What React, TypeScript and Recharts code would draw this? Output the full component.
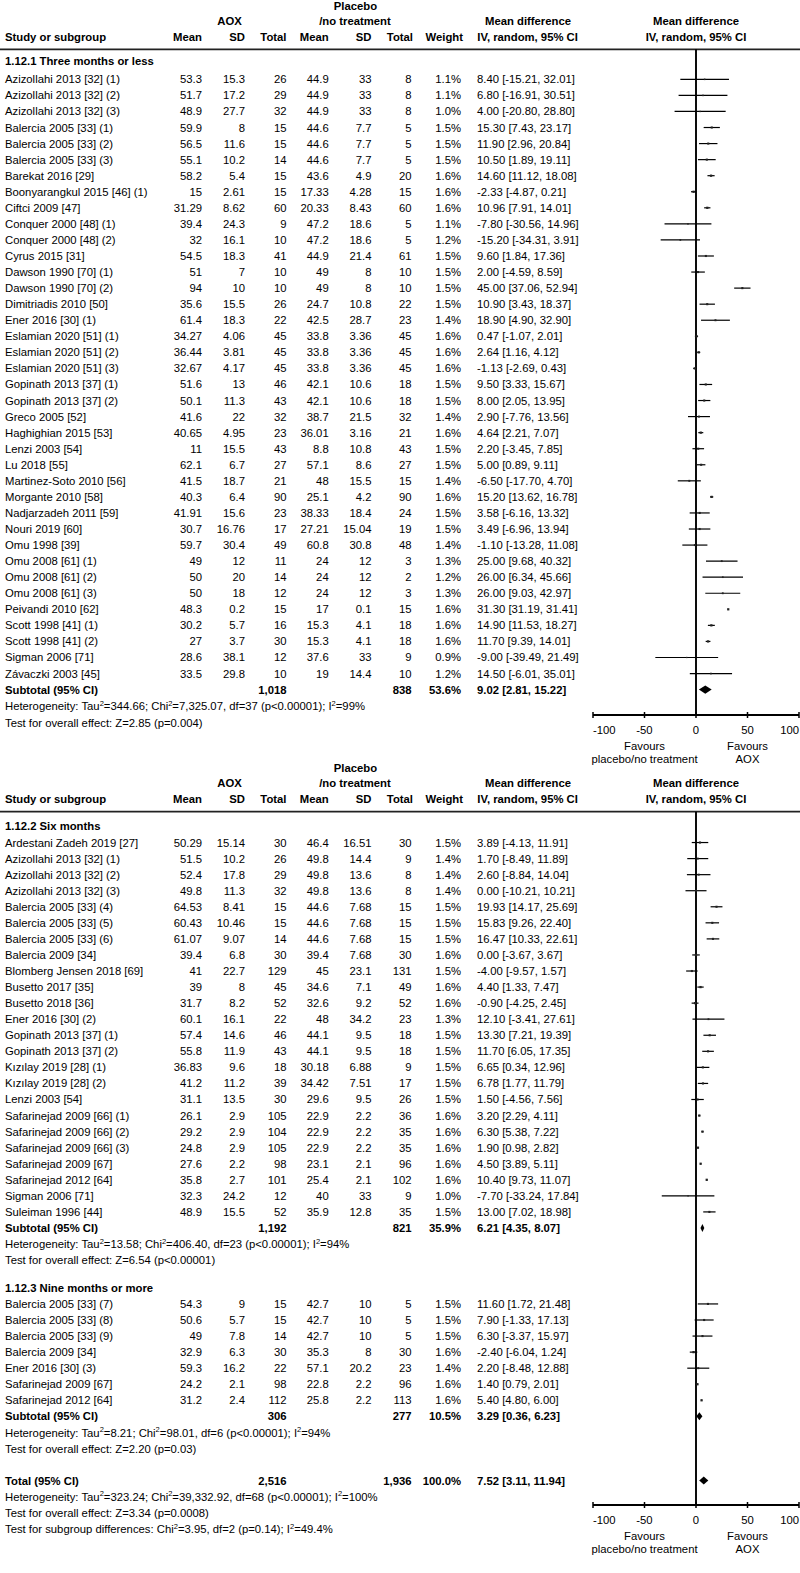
import React from "react";
import { ComposedChart, Scatter, XAxis, YAxis, ReferenceLine, ReferenceArea } from "recharts";

// [study, aox mean, aox sd, aox n, placebo mean, placebo sd, placebo n, weight %, md, lower, upper]
type Study = [string, string, string, string, string, string, string, number, number, number, number];
// [label, aox n, placebo n, weight %, md, lower, upper]
type Pooled = [string, string, string, number, number, number, number];

const THREE_MONTHS: Study[] = [
  ["Azizollahi 2013 [32] (1)", "53.3", "15.3", "26", "44.9", "33", "8", 1.1, 8.4, -15.21, 32.01],
  ["Azizollahi 2013 [32] (2)", "51.7", "17.2", "29", "44.9", "33", "8", 1.1, 6.8, -16.91, 30.51],
  ["Azizollahi 2013 [32] (3)", "48.9", "27.7", "32", "44.9", "33", "8", 1.0, 4.0, -20.8, 28.8],
  ["Balercia 2005 [33] (1)", "59.9", "8", "15", "44.6", "7.7", "5", 1.5, 15.3, 7.43, 23.17],
  ["Balercia 2005 [33] (2)", "56.5", "11.6", "15", "44.6", "7.7", "5", 1.5, 11.9, 2.96, 20.84],
  ["Balercia 2005 [33] (3)", "55.1", "10.2", "14", "44.6", "7.7", "5", 1.5, 10.5, 1.89, 19.11],
  ["Barekat 2016 [29]", "58.2", "5.4", "15", "43.6", "4.9", "20", 1.6, 14.6, 11.12, 18.08],
  ["Boonyarangkul 2015 [46] (1)", "15", "2.61", "15", "17.33", "4.28", "15", 1.6, -2.33, -4.87, 0.21],
  ["Ciftci 2009 [47]", "31.29", "8.62", "60", "20.33", "8.43", "60", 1.6, 10.96, 7.91, 14.01],
  ["Conquer 2000 [48] (1)", "39.4", "24.3", "9", "47.2", "18.6", "5", 1.1, -7.8, -30.56, 14.96],
  ["Conquer 2000 [48] (2)", "32", "16.1", "10", "47.2", "18.6", "5", 1.2, -15.2, -34.31, 3.91],
  ["Cyrus 2015 [31]", "54.5", "18.3", "41", "44.9", "21.4", "61", 1.5, 9.6, 1.84, 17.36],
  ["Dawson 1990 [70] (1)", "51", "7", "10", "49", "8", "10", 1.5, 2.0, -4.59, 8.59],
  ["Dawson 1990 [70] (2)", "94", "10", "10", "49", "8", "10", 1.5, 45.0, 37.06, 52.94],
  ["Dimitriadis 2010 [50]", "35.6", "15.5", "26", "24.7", "10.8", "22", 1.5, 10.9, 3.43, 18.37],
  ["Ener 2016 [30] (1)", "61.4", "18.3", "22", "42.5", "28.7", "23", 1.4, 18.9, 4.9, 32.9],
  ["Eslamian 2020 [51] (1)", "34.27", "4.06", "45", "33.8", "3.36", "45", 1.6, 0.47, -1.07, 2.01],
  ["Eslamian 2020 [51] (2)", "36.44", "3.81", "45", "33.8", "3.36", "45", 1.6, 2.64, 1.16, 4.12],
  ["Eslamian 2020 [51] (3)", "32.67", "4.17", "45", "33.8", "3.36", "45", 1.6, -1.13, -2.69, 0.43],
  ["Gopinath 2013 [37] (1)", "51.6", "13", "46", "42.1", "10.6", "18", 1.5, 9.5, 3.33, 15.67],
  ["Gopinath 2013 [37] (2)", "50.1", "11.3", "43", "42.1", "10.6", "18", 1.5, 8.0, 2.05, 13.95],
  ["Greco 2005 [52]", "41.6", "22", "32", "38.7", "21.5", "32", 1.4, 2.9, -7.76, 13.56],
  ["Haghighian 2015 [53]", "40.65", "4.95", "23", "36.01", "3.16", "21", 1.6, 4.64, 2.21, 7.07],
  ["Lenzi 2003 [54]", "11", "15.5", "43", "8.8", "10.8", "43", 1.5, 2.2, -3.45, 7.85],
  ["Lu 2018 [55]", "62.1", "6.7", "27", "57.1", "8.6", "27", 1.5, 5.0, 0.89, 9.11],
  ["Martinez-Soto 2010 [56]", "41.5", "18.7", "21", "48", "15.5", "15", 1.4, -6.5, -17.7, 4.7],
  ["Morgante 2010 [58]", "40.3", "6.4", "90", "25.1", "4.2", "90", 1.6, 15.2, 13.62, 16.78],
  ["Nadjarzadeh 2011 [59]", "41.91", "15.6", "23", "38.33", "18.4", "24", 1.5, 3.58, -6.16, 13.32],
  ["Nouri 2019 [60]", "30.7", "16.76", "17", "27.21", "15.04", "19", 1.5, 3.49, -6.96, 13.94],
  ["Omu 1998 [39]", "59.7", "30.4", "49", "60.8", "30.8", "48", 1.4, -1.1, -13.28, 11.08],
  ["Omu 2008 [61] (1)", "49", "12", "11", "24", "12", "3", 1.3, 25.0, 9.68, 40.32],
  ["Omu 2008 [61] (2)", "50", "20", "14", "24", "12", "2", 1.2, 26.0, 6.34, 45.66],
  ["Omu 2008 [61] (3)", "50", "18", "12", "24", "12", "3", 1.3, 26.0, 9.03, 42.97],
  ["Peivandi 2010 [62]", "48.3", "0.2", "15", "17", "0.1", "15", 1.6, 31.3, 31.19, 31.41],
  ["Scott 1998 [41] (1)", "30.2", "5.7", "16", "15.3", "4.1", "18", 1.6, 14.9, 11.53, 18.27],
  ["Scott 1998 [41] (2)", "27", "3.7", "30", "15.3", "4.1", "18", 1.6, 11.7, 9.39, 14.01],
  ["Sigman 2006 [71]", "28.6", "38.1", "12", "37.6", "33", "9", 0.9, -9.0, -39.49, 21.49],
  ["Závaczki 2003 [45]", "33.5", "29.8", "10", "19", "14.4", "10", 1.2, 14.5, -6.01, 35.01],
];

const SIX_MONTHS: Study[] = [
  ["Ardestani Zadeh 2019 [27]", "50.29", "15.14", "30", "46.4", "16.51", "30", 1.5, 3.89, -4.13, 11.91],
  ["Azizollahi 2013 [32] (1)", "51.5", "10.2", "26", "49.8", "14.4", "9", 1.4, 1.7, -8.49, 11.89],
  ["Azizollahi 2013 [32] (2)", "52.4", "17.8", "29", "49.8", "13.6", "8", 1.4, 2.6, -8.84, 14.04],
  ["Azizollahi 2013 [32] (3)", "49.8", "11.3", "32", "49.8", "13.6", "8", 1.4, 0.0, -10.21, 10.21],
  ["Balercia 2005 [33] (4)", "64.53", "8.41", "15", "44.6", "7.68", "15", 1.5, 19.93, 14.17, 25.69],
  ["Balercia 2005 [33] (5)", "60.43", "10.46", "15", "44.6", "7.68", "15", 1.5, 15.83, 9.26, 22.4],
  ["Balercia 2005 [33] (6)", "61.07", "9.07", "14", "44.6", "7.68", "15", 1.5, 16.47, 10.33, 22.61],
  ["Balercia 2009 [34]", "39.4", "6.8", "30", "39.4", "7.68", "30", 1.6, 0.0, -3.67, 3.67],
  ["Blomberg Jensen 2018 [69]", "41", "22.7", "129", "45", "23.1", "131", 1.5, -4.0, -9.57, 1.57],
  ["Busetto 2017 [35]", "39", "8", "45", "34.6", "7.1", "49", 1.6, 4.4, 1.33, 7.47],
  ["Busetto 2018 [36]", "31.7", "8.2", "52", "32.6", "9.2", "52", 1.6, -0.9, -4.25, 2.45],
  ["Ener 2016 [30] (2)", "60.1", "16.1", "22", "48", "34.2", "23", 1.3, 12.1, -3.41, 27.61],
  ["Gopinath 2013 [37] (1)", "57.4", "14.6", "46", "44.1", "9.5", "18", 1.5, 13.3, 7.21, 19.39],
  ["Gopinath 2013 [37] (2)", "55.8", "11.9", "43", "44.1", "9.5", "18", 1.5, 11.7, 6.05, 17.35],
  ["Kızılay 2019 [28] (1)", "36.83", "9.6", "18", "30.18", "6.88", "9", 1.5, 6.65, 0.34, 12.96],
  ["Kızılay 2019 [28] (2)", "41.2", "11.2", "39", "34.42", "7.51", "17", 1.5, 6.78, 1.77, 11.79],
  ["Lenzi 2003 [54]", "31.1", "13.5", "30", "29.6", "9.5", "26", 1.5, 1.5, -4.56, 7.56],
  ["Safarinejad 2009 [66] (1)", "26.1", "2.9", "105", "22.9", "2.2", "36", 1.6, 3.2, 2.29, 4.11],
  ["Safarinejad 2009 [66] (2)", "29.2", "2.9", "104", "22.9", "2.2", "35", 1.6, 6.3, 5.38, 7.22],
  ["Safarinejad 2009 [66] (3)", "24.8", "2.9", "105", "22.9", "2.2", "35", 1.6, 1.9, 0.98, 2.82],
  ["Safarinejad 2009 [67]", "27.6", "2.2", "98", "23.1", "2.1", "96", 1.6, 4.5, 3.89, 5.11],
  ["Safarinejad 2012 [64]", "35.8", "2.7", "101", "25.4", "2.1", "102", 1.6, 10.4, 9.73, 11.07],
  ["Sigman 2006 [71]", "32.3", "24.2", "12", "40", "33", "9", 1.0, -7.7, -33.24, 17.84],
  ["Suleiman 1996 [44]", "48.9", "15.5", "52", "35.9", "12.8", "35", 1.5, 13.0, 7.02, 18.98],
];

const NINE_MONTHS: Study[] = [
  ["Balercia 2005 [33] (7)", "54.3", "9", "15", "42.7", "10", "5", 1.5, 11.6, 1.72, 21.48],
  ["Balercia 2005 [33] (8)", "50.6", "5.7", "15", "42.7", "10", "5", 1.5, 7.9, -1.33, 17.13],
  ["Balercia 2005 [33] (9)", "49", "7.8", "14", "42.7", "10", "5", 1.5, 6.3, -3.37, 15.97],
  ["Balercia 2009 [34]", "32.9", "6.3", "30", "35.3", "8", "30", 1.6, -2.4, -6.04, 1.24],
  ["Ener 2016 [30] (3)", "59.3", "16.2", "22", "57.1", "20.2", "23", 1.4, 2.2, -8.48, 12.88],
  ["Safarinejad 2009 [67]", "24.2", "2.1", "98", "22.8", "2.2", "96", 1.6, 1.4, 0.79, 2.01],
  ["Safarinejad 2012 [64]", "31.2", "2.4", "112", "25.8", "2.2", "113", 1.6, 5.4, 4.8, 6.0],
];

const GROUP_TITLES = ["1.12.1 Three months or less", "1.12.2 Six months", "1.12.3 Nine months or more"];

const SUBTOTALS: Pooled[] = [
  ["Subtotal (95% CI)", "1,018", "838", 53.6, 9.02, 2.81, 15.22],
  ["Subtotal (95% CI)", "1,192", "821", 35.9, 6.21, 4.35, 8.07],
  ["Subtotal (95% CI)", "306", "277", 10.5, 3.29, 0.36, 6.23],
];
const TOTAL: Pooled = ["Total (95% CI)", "2,516", "1,936", 100.0, 7.52, 3.11, 11.94];

const HETEROGENEITY = [
  "Heterogeneity: Tau^2=344.66; Chi^2=7,325.07, df=37 (p<0.00001); I^2=99%",
  "Heterogeneity: Tau^2=13.58; Chi^2=406.40, df=23 (p<0.00001); I^2=94%",
  "Heterogeneity: Tau^2=8.21; Chi^2=98.01, df=6 (p<0.00001); I^2=94%",
  "Heterogeneity: Tau^2=323.24; Chi^2=39,332.92, df=68 (p<0.00001); I^2=100%",
];
const OVERALL_EFFECT = [
  "Test for overall effect: Z=2.85 (p=0.004)",
  "Test for overall effect: Z=6.54 (p<0.00001)",
  "Test for overall effect: Z=2.20 (p=0.03)",
  "Test for overall effect: Z=3.34 (p=0.0008)",
];
const SUBGROUP_TEST = "Test for subgroup differences: Chi^2=3.95, df=2 (p=0.14); I^2=49.4%";

const X_TICKS = [-100, -50, 0, 50, 100];

// layout
const FONT = "'Liberation Sans', Arial, Helvetica, sans-serif";
const FS = 11.3;
const UNIT = 16.06;
const RULE_A = 49.3;
const AXIS_A = 715;
const RULE_B = 811.7;
const AXIS_B = 1505;
const AXIS_H = 60;

type Row = { pos: number; title?: string; study?: Study; pooled?: Pooled };

const A_FIRST = 1.87;
const rowsA: Row[] = [
  { pos: 0.72, title: GROUP_TITLES[0] },
  ...THREE_MONTHS.map((s, i) => ({ pos: A_FIRST + i, study: s })),
  { pos: A_FIRST + THREE_MONTHS.length, pooled: SUBTOTALS[0] },
];

const B_FIRST = 1.92;
const C_TITLE = 29.65;
const C_FIRST = 30.65;
const rowsB: Row[] = [
  { pos: 0.9, title: GROUP_TITLES[1] },
  ...SIX_MONTHS.map((s, i) => ({ pos: B_FIRST + i, study: s })),
  { pos: B_FIRST + SIX_MONTHS.length, pooled: SUBTOTALS[1] },
  { pos: C_TITLE, title: GROUP_TITLES[2] },
  ...NINE_MONTHS.map((s, i) => ({ pos: C_FIRST + i, study: s })),
  { pos: C_FIRST + NINE_MONTHS.length, pooled: SUBTOTALS[2] },
  { pos: C_FIRST + NINE_MONTHS.length + 4, pooled: TOTAL },
];

const ci = (md: number, lo: number, hi: number) => `${md.toFixed(2)} [${lo.toFixed(2)}, ${hi.toFixed(2)}]`;

function T({ x, y, anchor = "start", bold = false, children }: any) {
  return (
    <text x={x} y={y} textAnchor={anchor} fontWeight={bold ? 700 : 400} fontFamily={FONT} fontSize={FS} fill="#000">
      {children}
    </text>
  );
}

function Sup({ x, y, text }: { x: number; y: number; text: string }) {
  const parts = text.split("^2");
  return (
    <text x={x} y={y} fontFamily={FONT} fontSize={FS} fill="#000">
      {parts.map((p, i) => (
        <React.Fragment key={i}>
          {i > 0 && (
            <tspan dy={-4.5} fontSize={7.5}>
              2
            </tspan>
          )}
          <tspan dy={i > 0 ? 4.5 : 0}>{p}</tspan>
        </React.Fragment>
      ))}
    </text>
  );
}

const makeRowTick = (rows: Row[]) => (props: any) => {
  const { y, payload } = props;
  const row = rows.find((r) => Math.abs(r.pos - payload.value) < 1e-6);
  if (!row) return <g />;
  const by = y + 4;
  if (row.title) {
    return (
      <g>
        <T x={5} y={by} bold>{row.title}</T>
      </g>
    );
  }
  if (row.study) {
    const s = row.study;
    return (
      <g>
        <T x={5} y={by}>{s[0]}</T>
        <T x={202} y={by} anchor="end">{s[1]}</T>
        <T x={245} y={by} anchor="end">{s[2]}</T>
        <T x={286.5} y={by} anchor="end">{s[3]}</T>
        <T x={328.7} y={by} anchor="end">{s[4]}</T>
        <T x={371.5} y={by} anchor="end">{s[5]}</T>
        <T x={411.5} y={by} anchor="end">{s[6]}</T>
        <T x={461} y={by} anchor="end">{`${s[7].toFixed(1)}%`}</T>
        <T x={477} y={by}>{ci(s[8], s[9], s[10])}</T>
      </g>
    );
  }
  const p = row.pooled as Pooled;
  return (
    <g>
      <T x={5} y={by} bold>{p[0]}</T>
      <T x={286.5} y={by} anchor="end" bold>{p[1]}</T>
      <T x={411.5} y={by} anchor="end" bold>{p[2]}</T>
      <T x={461} y={by} anchor="end" bold>{`${p[3].toFixed(1)}%`}</T>
      <T x={477} y={by} bold>{ci(p[4], p[5], p[6])}</T>
    </g>
  );
};

const AxisTick = (props: any) => {
  const { x, y, payload } = props;
  const v = payload.value;
  const anchor = v === -100 ? "start" : v === 100 ? "end" : "middle";
  return (
    <g>
      <line x1={x} x2={x} y1={y - 3} y2={y + 3} stroke="#000" strokeWidth={1.5} />
      <T x={x} y={y + 18.5} anchor={anchor}>{v}</T>
      {v === -50 && (
        <>
          <T x={x} y={y + 35} anchor="middle">Favours</T>
          <T x={x} y={y + 47.5} anchor="middle">placebo/no treatment</T>
        </>
      )}
      {v === 50 && (
        <>
          <T x={x} y={y + 35} anchor="middle">Favours</T>
          <T x={x} y={y + 47.5} anchor="middle">AOX</T>
        </>
      )}
    </g>
  );
};

const Square = (p: any) => {
  const s = Math.max(1.3, p.payload.w * 1.4);
  return <rect x={p.cx - s / 2} y={p.cy - s / 2} width={s} height={s} fill="#222" />;
};

const Diamond = (p: any) => {
  const { x, y, width, height } = p;
  const cx = x + width / 2;
  const cy = y + height / 2;
  return <polygon points={`${x},${cy} ${cx},${y} ${x + width},${cy} ${cx},${y + height}`} fill="#000" />;
};

function Panel({ rows, rule, axis }: { rows: Row[]; rule: number; axis: number }) {
  const studies = rows.filter((r) => r.study);
  const pooled = rows.filter((r) => r.pooled);
  const points = studies.map((r) => ({ md: r.study![8], pos: r.pos, w: r.study![7] }));
  const domainMax = (axis - rule) / UNIT;
  return (
    <div style={{ position: "absolute", left: 0, top: 0 }}>
      <ComposedChart width={800} height={axis + AXIS_H} margin={{ top: rule, right: 1, bottom: 0, left: 592 }}>
        <XAxis
          type="number" dataKey="md" domain={[-100, 100]} ticks={X_TICKS} allowDataOverflow interval={0}
          height={AXIS_H} axisLine={{ stroke: "#000", strokeWidth: 1.8 }} tickLine={false}
          tickSize={0} tickMargin={0} tick={AxisTick}
        />
        <YAxis
          type="number" dataKey="pos" domain={[0, domainMax]} reversed allowDataOverflow width={1}
          ticks={rows.map((r) => r.pos)} interval={0} tick={makeRowTick(rows)} axisLine={false} tickLine={false}
        />
        <ReferenceLine x={0} stroke="#000" strokeWidth={1.9} />
        {studies.map((r, i) => (
          <ReferenceLine
            key={`ci${i}`}
            segment={[{ x: r.study![9], y: r.pos }, { x: r.study![10], y: r.pos }]}
            stroke="#000" strokeWidth={1.2}
          />
        ))}
        {pooled.map((r, i) => (
          <ReferenceArea
            key={`d${i}`}
            x1={r.pooled![5]} x2={r.pooled![6]} y1={r.pos - 0.25} y2={r.pos + 0.25}
            shape={Diamond} ifOverflow="visible"
          />
        ))}
        <Scatter data={points} shape={Square} isAnimationActive={false} />
      </ComposedChart>
    </div>
  );
}

function Header({ rule }: { rule: number }) {
  const r1 = rule - 39.5;
  const r2 = rule - 24.8;
  const r3 = rule - 8.8;
  return (
    <g>
      <T x={229.6} y={r2} anchor="middle" bold>AOX</T>
      <T x={355.5} y={r1} anchor="middle" bold>Placebo</T>
      <T x={355} y={r2} anchor="middle" bold>/no treatment</T>
      <T x={528} y={r2} anchor="middle" bold>Mean difference</T>
      <T x={696} y={r2} anchor="middle" bold>Mean difference</T>
      <T x={5} y={r3} bold>Study or subgroup</T>
      <T x={202} y={r3} anchor="end" bold>Mean</T>
      <T x={245} y={r3} anchor="end" bold>SD</T>
      <T x={286.5} y={r3} anchor="end" bold>Total</T>
      <T x={328.7} y={r3} anchor="end" bold>Mean</T>
      <T x={371.5} y={r3} anchor="end" bold>SD</T>
      <T x={413} y={r3} anchor="end" bold>Total</T>
      <T x={463} y={r3} anchor="end" bold>Weight</T>
      <T x={527.6} y={r3} anchor="middle" bold>IV, random, 95% CI</T>
      <T x={696} y={r3} anchor="middle" bold>IV, random, 95% CI</T>
      <line x1={0} x2={800} y1={rule} y2={rule} stroke="#222" strokeWidth={1.7} />
    </g>
  );
}

export default function App() {
  const subA = rowsA[rowsA.length - 1].pos;
  const subB = B_FIRST + SIX_MONTHS.length;
  const subC = C_FIRST + NINE_MONTHS.length;
  const tot = subC + 4;
  const yA = (pos: number) => RULE_A + pos * UNIT + 4;
  const yB = (pos: number) => RULE_B + pos * UNIT + 4;
  return (
    <div style={{ position: "absolute", left: 0, top: 0, width: 800, height: 1573, background: "#fff" }}>
      <svg width={800} height={1573} style={{ position: "absolute", left: 0, top: 0 }}>
        <Header rule={RULE_A} />
        <Header rule={RULE_B} />
        <Sup x={5} y={yA(subA + 1.03)} text={HETEROGENEITY[0]} />
        <Sup x={5} y={yA(subA + 2.06)} text={OVERALL_EFFECT[0]} />
        <Sup x={5} y={yB(subB + 1.02)} text={HETEROGENEITY[1]} />
        <Sup x={5} y={yB(subB + 2.02)} text={OVERALL_EFFECT[1]} />
        <Sup x={5} y={yB(subC + 1.02)} text={HETEROGENEITY[2]} />
        <Sup x={5} y={yB(subC + 2.02)} text={OVERALL_EFFECT[2]} />
        <Sup x={5} y={yB(tot + 1.02)} text={HETEROGENEITY[3]} />
        <Sup x={5} y={yB(tot + 2.02)} text={OVERALL_EFFECT[3]} />
        <Sup x={5} y={yB(tot + 3.02)} text={SUBGROUP_TEST} />
      </svg>
      <Panel rows={rowsA} rule={RULE_A} axis={AXIS_A} />
      <Panel rows={rowsB} rule={RULE_B} axis={AXIS_B} />
    </div>
  );
}
